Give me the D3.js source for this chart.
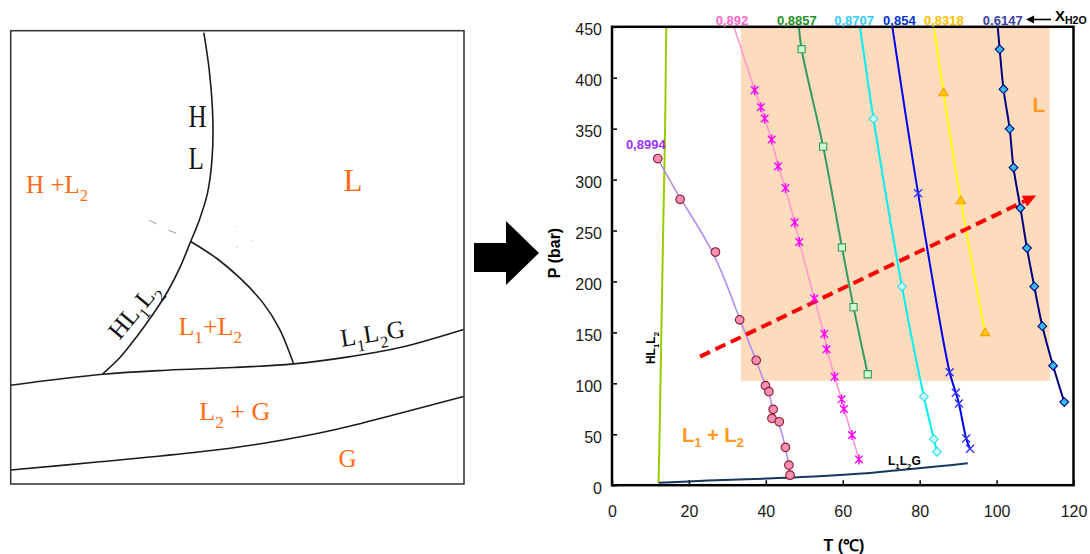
<!DOCTYPE html>
<html><head><meta charset="utf-8">
<script src="https://cdn.jsdelivr.net/npm/d3@7"></script>
<style>body{margin:0;background:#fff}</style>
</head><body>
<svg id="c" width="1090" height="554"></svg>
<script>
// ---------- DATA (right chart) ----------
const tickT = [0, 20, 40, 60, 80, 100, 120];
const tickP = [0, 50, 100, 150, 200, 250, 300, 350, 400, 450];
const regionT = [33.5, 113.8];
const regionP = [102.5, 450];

const x8994T = [11.9, 17.7, 26.9, 33.2, 37.5, 39.9, 40.8, 41.9, 41.6, 43.5, 45.1, 46.0, 46.3];
const x8994P = [320.6, 280.6, 228.9, 162.3, 122.6, 97.7, 91.8, 74.4, 65.6, 62.3, 37.1, 19.7, 9.8];

const x892T = [37.1, 38.7, 39.7, 41.5, 43.2, 45.1, 47.5, 48.7, 52.6, 55.2, 55.8, 57.9, 59.7, 60.3, 62.4, 64.2];
const x892P = [387.8, 371.1, 360, 339.3, 313.1, 291.8, 258, 238.7, 183.2, 148.5, 133.4, 106.5, 84.3, 74.8, 49.2, 25.3];

const x8857T = [49.3, 54.9, 59.8, 62.8, 66.5];
const x8857P = [428, 332.4, 233.4, 174.8, 108.9];

const x8707T = [68.0, 75.4, 81.1, 83.7, 84.5];
const x8707P = [359.7, 195, 86.9, 45.2, 32.8];

const x854T = [79.6, 87.8, 89.4, 90.2, 92.1, 93.1];
const x854P = [286.5, 110.8, 90.8, 80.3, 45.9, 35.7];

const x8318T = [86.2, 90.7, 97.0];
const x8318P = [385.3, 279.3, 149.8];

const x6147T = [100.8, 101.8, 103.4, 104.4, 106.2, 107.9, 109.8, 111.9, 114.7, 117.6];
const x6147P = [427.9, 388.8, 349.8, 311.8, 272.1, 232.8, 195, 156.1, 117.3, 81.6];

// where each iso-composition line leaves the top of the frame (P = 450)
const topLabels = ['0,8994', '0,892', '0,8857', '0,8707', '0,854', '0,8318', '0,6147'];
const topT = [null, 31.7, 48.6, 64.5, 72.9, 83.7, 100.3];

const hlT = [12.1, 12.3, 12.7, 13.3, 13.8, 14.1];
const hlP = [2.5, 35, 120, 250, 350, 450];
const llgT = [12.1, 25, 40, 55, 65, 75, 85, 92.5];
const llgP = [2.5, 4.5, 6.5, 9, 11.5, 15, 18.5, 21.5];

const arrowT = [22.9, 110.3];
const arrowP = [126.2, 284.3];

// ---------- DATA (left schematic, box units 0..100, y downward) ----------
const hlU = [42.6, 43.8, 44.6, 44.4, 43.4, 41.6, 39.7, 37.4, 34.8, 31.5, 27.8, 24.1, 20.3];
const hlV = [0.4, 8.7, 19.7, 28.5, 35.9, 41.8, 46.5, 52.1, 57.2, 62.4, 67.5, 72.1, 75.7];
const l1U = [39.7, 45.4, 50.6, 55.7, 59.4, 62.4];
const l1V = [46.5, 50.2, 54.6, 60.1, 66.0, 73.5];
const lgU = [0, 20.3, 34.4, 49.1, 62.4, 74.9, 85.9, 99.9];
const lgV = [78.2, 75.8, 74.9, 74.3, 73.5, 71.9, 69.9, 65.9];
const gU = [0, 19.7, 41.8, 56.5, 71.2, 85.9, 99.9];
const gV = [96.9, 95.1, 92.9, 90.9, 88.1, 84.4, 80.7];

// ---------- DRAW ----------
const svg = d3.select('#c');
svg.append('rect').attr('width', 1090).attr('height', 554).attr('fill', '#fff');

function rich(t, parts, size, subDy) {
  let prevSub = false;
  const d = size * (subDy || 0.3);
  parts.forEach(p => {
    const isSub = p[1] === 's';
    const ts = t.append('tspan').text(p[0]);
    if (isSub) { ts.attr('font-size', size * 0.66); if (!prevSub) ts.attr('dy', d); }
    else if (prevSub) ts.attr('dy', -d);
    prevSub = isSub;
  });
  return t;
}

// ===== left schematic =====
const sx = d3.scaleLinear([0, 100], [10.7, 464]);
const sy = d3.scaleLinear([0, 100], [30.7, 484]);
const Lg = svg.append('g').attr('font-family', '"Liberation Serif","Times New Roman",serif');
Lg.append('rect').attr('x', sx(0)).attr('y', sy(0)).attr('width', sx(100) - sx(0)).attr('height', sy(100) - sy(0))
  .attr('fill', 'none').attr('stroke', '#3a3a3a').attr('stroke-width', 1.6);
const sLine = d3.line().x(d => sx(d[0])).y(d => sy(d[1])).curve(d3.curveCatmullRom);
[[hlU, hlV], [l1U, l1V], [lgU, lgV], [gU, gV]].forEach(([u, v]) =>
  Lg.append('path').attr('d', sLine(d3.zip(u, v))).attr('fill', 'none').attr('stroke', '#1c1c1c').attr('stroke-width', 1.6));
// faint grey dashes
[[30.5, 41.8, 32.2, 42.6], [34.8, 44.0, 36.5, 44.7]].forEach(s =>
  Lg.append('line').attr('x1', sx(s[0])).attr('y1', sy(s[1])).attr('x2', sx(s[2])).attr('y2', sy(s[3]))
    .attr('stroke', '#9a9a9a').attr('stroke-width', 1));
[[49.5, 43.3], [53.2, 46.3], [49.9, 47.8]].forEach(s =>
  Lg.append('circle').attr('cx', sx(s[0])).attr('cy', sy(s[1])).attr('r', 0.8).attr('fill', '#d8d8d8'));

const OR = '#ff6a13';
[['H', 41.2, 21.2], ['L', 40.9, 30.4]].forEach(([t, u, v]) =>
  Lg.append('text').attr('transform', `translate(${sx(u)},${sy(v)}) scale(1,1.3)`).attr('text-anchor', 'middle')
    .attr('font-size', 25).attr('fill', '#111').text(t));
const leftTexts = [
  { p: [['H +L'], ['2', 's']], u: 3.4, v: 35.9, s: 25, c: OR },
  { p: [['L']], u: 73.4, v: 35.3, s: 31, c: OR },
  { p: [['L'], ['1', 's'], ['+L'], ['2', 's']], u: 37.0, v: 67.1, s: 26, c: OR },
  { p: [['L'], ['2', 's'], [' + G']], u: 41.6, v: 85.9, s: 26, c: OR },
  { p: [['G']], u: 72.3, v: 96.2, s: 25, c: OR },
];
leftTexts.forEach(o => rich(Lg.append('text').attr('x', sx(o.u)).attr('y', sy(o.v)).attr('font-size', o.s).attr('fill', o.c), o.p, o.s));
rich(Lg.append('text').attr('transform', `translate(${sx(28.6)},${sy(62.9)}) rotate(-50)`).attr('text-anchor', 'middle')
  .attr('font-size', 25).attr('fill', '#111'), [['HL'], ['1', 's'], ['L'], ['2', 's']], 25);
rich(Lg.append('text').attr('transform', `translate(${sx(80.1)},${sy(68.6)}) rotate(-9)`).attr('text-anchor', 'middle')
  .attr('font-size', 25).attr('fill', '#111'), [['L'], ['1', 's'], ['L'], ['2', 's'], ['G']], 25);

// big black arrow
svg.append('path').attr('d', 'M474,243 L506,243 L506,221 L539,253 L506,285 L506,272 L474,272 Z').attr('fill', '#000');

// ===== right chart =====
const x = d3.scaleLinear().domain([0, 120]).range([612, 1073.5]);
const y = d3.scaleLinear().domain([0, 450]).range([485.2, 26.8]);
const R = svg.append('g').attr('font-family', '"Liberation Sans",Arial,sans-serif');

R.append('rect').attr('x', x(regionT[0])).attr('y', y(regionP[1])).attr('width', x(regionT[1]) - x(regionT[0]))
  .attr('height', y(regionP[0]) - y(regionP[1])).attr('fill', '#fddcbe');

const series = [
  { T: x8994T, P: x8994P, line: '#b48cf0', lw: 1.6, lab: '#9933ff', m: 'circle', fill: '#f78fb6', stroke: '#8b1a2a', curve: d3.curveBasis, dx: 0 },
  { T: x892T, P: x892P, line: '#ff99cc', lw: 1.6, lab: '#ff66cc', m: 'star', fill: 'none', stroke: '#ff00ff', curve: d3.curveBasis, dx: -2 },
  { T: x8857T, P: x8857P, line: '#339966', lw: 2, lab: '#1f8f1f', m: 'square', fill: '#ccffcc', stroke: '#339966', curve: d3.curveCatmullRom, dx: -2 },
  { T: x8707T, P: x8707P, line: '#00f0f0', lw: 2, lab: '#33ccff', m: 'diamond', fill: '#ccffff', stroke: '#22e0e8', curve: d3.curveCatmullRom, dx: -6 },
  { T: x854T, P: x854P, line: '#0000ee', lw: 2, lab: '#0033cc', m: 'x', fill: 'none', stroke: '#3333ff', curve: d3.curveCatmullRom, dx: 7 },
  { T: x8318T, P: x8318P, line: '#ffff00', lw: 2, lab: '#ffc000', m: 'tri', fill: '#ffcc00', stroke: '#ff9900', curve: d3.curveCatmullRom, dx: 10 },
  { T: x6147T, P: x6147P, line: '#000080', lw: 2, lab: '#4040a0', m: 'diamond', fill: '#33bbee', stroke: '#000080', curve: d3.curveCatmullRom, dx: 5 },
];
series.forEach((s, i) => { s.label = topLabels[i]; s.top = topT[i]; });

const line = d3.line().x(d => x(d[0])).y(d => y(d[1]));
// boundary lines
R.append('path').attr('d', line.curve(d3.curveCatmullRom)(d3.zip(hlT, hlP))).attr('fill', 'none').attr('stroke', '#99cc00').attr('stroke-width', 2);
R.append('path').attr('d', line.curve(d3.curveCatmullRom)(d3.zip(llgT, llgP))).attr('fill', 'none').attr('stroke', '#17375e').attr('stroke-width', 2);

series.forEach(s => {
  let pts = d3.zip(s.T, s.P);
  if (s.top != null) pts = [[s.top, 450]].concat(pts);
  R.append('path').attr('d', line.curve(s.curve)(pts)).attr('fill', 'none').attr('stroke', s.line).attr('stroke-width', s.lw);
});

// red dashed arrow
{
  const x0 = x(arrowT[0]), y0 = y(arrowP[0]), x1 = x(arrowT[1]), y1 = y(arrowP[1]);
  const ang = Math.atan2(y1 - y0, x1 - x0), hl = 13, hw = 6;
  const bx = x1 - hl * Math.cos(ang), by = y1 - hl * Math.sin(ang);
  R.append('line').attr('x1', x0).attr('y1', y0).attr('x2', bx).attr('y2', by)
    .attr('stroke', '#ff0000').attr('stroke-width', 4).attr('stroke-dasharray', '11,6');
  const nx = -Math.sin(ang), ny = Math.cos(ang);
  R.append('path').attr('d', `M${x1},${y1}L${bx + nx * hw},${by + ny * hw}L${bx - nx * hw},${by - ny * hw}Z`).attr('fill', '#ff0000');
}

const shapes = {
  circle: 'M4.3,0A4.3,4.3 0 1,1 -4.3,0A4.3,4.3 0 1,1 4.3,0Z',
  square: 'M-3.6,-3.6H3.6V3.6H-3.6Z',
  diamond: 'M0,-4.4L4.4,0L0,4.4L-4.4,0Z',
  tri: 'M0,-4.6L4.6,3L-4.6,3Z',
  star: 'M-3.8,-3.8L3.8,3.8M-3.8,3.8L3.8,-3.8M0,-5L0,5',
  x: 'M-4,-4L4,4M-4,4L4,-4',
};
series.forEach(s => {
  R.append('g').selectAll('path').data(d3.zip(s.T, s.P)).join('path')
    .attr('transform', d => `translate(${x(d[0])},${y(d[1])})`)
    .attr('d', shapes[s.m]).attr('fill', s.fill).attr('stroke', s.stroke)
    .attr('stroke-width', (s.m === 'star' || s.m === 'x') ? 1.4 : 1.1);
});

// frame
R.append('rect').attr('x', x(0)).attr('y', y(450)).attr('width', x(120) - x(0)).attr('height', y(0) - y(450))
  .attr('fill', 'none').attr('stroke', '#000').attr('stroke-width', 2.5);

// axes
const ax = R.append('g').attr('transform', `translate(0,${y(0)})`)
  .call(d3.axisBottom(x).tickValues(tickT).tickFormat(d3.format('d')).tickSize(-5).tickPadding(20));
const ay = R.append('g').attr('transform', `translate(${x(0)},0)`)
  .call(d3.axisLeft(y).tickValues(tickP).tickFormat(d3.format('d')).tickSize(-5).tickPadding(10));
[ax, ay].forEach(a => {
  a.select('.domain').remove();
  a.selectAll('line').attr('stroke', '#000').attr('stroke-width', 1.5);
  a.selectAll('text').attr('font-size', 16).attr('fill', '#1a1a1a').attr('font-family', '"Liberation Sans",Arial,sans-serif');
});
ay.selectAll('text').attr('dy', '0.5em');

R.append('text').attr('transform', 'translate(560,253) rotate(-90)').attr('text-anchor', 'middle')
  .attr('font-size', 16).attr('font-weight', 'bold').attr('fill', '#000').text('P (bar)');
R.append('text').attr('x', 844).attr('y', 551).attr('text-anchor', 'middle')
  .attr('font-size', 16).attr('font-weight', 'bold').attr('fill', '#000').text('T (℃)');

// composition labels
series.forEach((s, i) => {
  if (s.top != null) {
    R.append('text').attr('x', x(s.top) + s.dx).attr('y', 24.5).attr('text-anchor', 'middle')
      .attr('font-size', 13).attr('font-weight', 'bold').attr('fill', s.lab).text(s.label);
  } else {
    R.append('text').attr('x', x(s.T[0]) - 12).attr('y', y(s.P[0]) - 10).attr('text-anchor', 'middle')
      .attr('font-size', 13).attr('font-weight', 'bold').attr('fill', s.lab).text(s.label);
  }
});
// x_H2O legend arrow
R.append('line').attr('x1', 1051).attr('y1', 19.5).attr('x2', 1032).attr('y2', 19.5).attr('stroke', '#000').attr('stroke-width', 1.6);
R.append('path').attr('d', 'M1026,19.5L1034,15.5L1034,23.5Z').attr('fill', '#000');
{
  const t = R.append('text').attr('x', 1055).attr('y', 21).attr('font-weight', 'bold').attr('fill', '#000');
  t.append('tspan').attr('font-size', 15).text('X');
  t.append('tspan').attr('font-size', 10.5).attr('dy', 3).text('H2O');
}

// region labels
rich(R.append('text').attr('x', 682).attr('y', 441.5).attr('font-size', 20).attr('font-weight', 'bold').attr('fill', '#ff9a1f'),
  [['L'], ['1', 's'], [' + L'], ['2', 's']], 20, 0.28);
R.append('text').attr('x', 1032.5).attr('y', 111.5).attr('font-size', 21).attr('font-weight', 'bold').attr('fill', '#ff9a1f').text('L');
rich(R.append('text').attr('transform', 'translate(655,348) rotate(-90)').attr('text-anchor', 'middle')
  .attr('font-size', 12).attr('font-weight', 'bold').attr('fill', '#000'), [['HL'], ['1', 's'], ['L'], ['2', 's']], 12);
rich(R.append('text').attr('x', 888).attr('y', 465).attr('font-size', 12).attr('font-weight', 'bold').attr('fill', '#000'),
  [['L'], ['1', 's'], ['L'], ['2', 's'], ['G']], 12);
</script>
</body></html>
